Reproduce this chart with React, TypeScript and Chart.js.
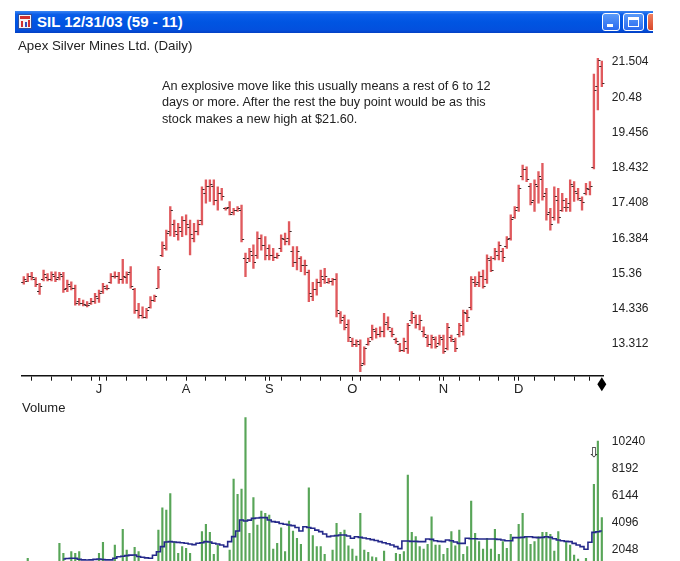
import React, { useEffect, useRef } from 'react';
import { Chart, registerables } from 'chart.js';

Chart.register(...registerables);

// ---- Data ----
const highs = [
  15.27, 15.36, 15.39, 15.24, 15.07, 15.46, 15.36, 15.41, 15.41, 15.39,
  15.39, 15.17, 15.12, 15.02, 14.64, 14.59, 14.54, 14.64, 14.78, 14.88,
  15.07, 15.02, 15.36, 15.41, 15.39, 15.77, 15.41, 15.56, 14.93, 14.49,
  14.39, 14.35, 14.69, 14.73, 15.56, 16.28, 16.62, 17.30, 16.91, 16.82,
  17.01, 17.06, 16.91, 16.82, 16.91, 17.88, 18.08, 18.08, 18.08, 17.88,
  17.83, 17.28, 17.45, 17.25, 17.30, 17.35, 15.95, 16.09, 16.19, 16.57,
  16.48, 16.43, 16.19, 16.09, 15.95, 16.48, 16.53, 16.87, 16.14, 16.14,
  15.85, 15.75, 15.46, 15.10, 15.20, 15.46, 15.51, 15.22, 15.22, 15.36,
  14.25, 14.15, 14.01, 13.48, 13.43, 13.43, 13.23, 13.48, 13.86, 13.77,
  13.81, 14.20, 14.10, 13.77, 13.48, 13.33, 13.48, 13.91, 14.25, 14.15,
  14.15, 13.81, 13.57, 13.57, 13.52, 13.57, 13.57, 13.91, 13.57, 13.48,
  13.91, 14.30, 14.30, 15.27, 15.27, 15.41, 15.46, 15.90, 15.85, 16.09,
  16.28, 16.09, 16.43, 17.06, 17.30, 17.93, 18.51, 18.46, 17.98, 18.08,
  18.32, 18.56, 17.83, 17.25, 17.88, 17.83, 17.69, 17.54, 18.08, 18.03,
  17.83, 17.59, 17.98, 18.03, 21.15, 21.61, 21.53,
];
const lows = [
  15.05, 15.12, 15.17, 14.98, 14.75, 15.14, 15.14, 15.14, 15.12, 15.17,
  14.81, 14.83, 14.88, 14.44, 14.44, 14.42, 14.39, 14.46, 14.49, 14.52,
  14.78, 14.88, 15.07, 15.22, 15.07, 15.07, 15.07, 14.93, 14.20, 14.06,
  14.06, 14.06, 14.35, 14.54, 14.93, 15.85, 16.04, 16.45, 16.43, 16.33,
  16.43, 16.48, 15.90, 16.28, 16.48, 16.77, 17.40, 17.45, 17.35, 17.20,
  17.49, 17.20, 17.06, 17.06, 17.16, 16.28, 15.27, 15.70, 15.51, 15.80,
  16.04, 15.75, 15.75, 15.73, 15.80, 15.99, 16.19, 16.19, 15.56, 15.46,
  15.41, 15.32, 14.54, 14.57, 14.73, 14.98, 15.07, 15.07, 15.02, 14.10,
  13.91, 13.72, 13.38, 13.23, 13.23, 12.51, 12.70, 13.28, 13.43, 13.48,
  13.52, 13.52, 13.72, 13.52, 13.33, 13.09, 13.09, 13.04, 13.91, 13.77,
  13.72, 13.52, 13.23, 13.19, 13.19, 13.28, 13.04, 13.14, 13.38, 13.09,
  13.52, 13.57, 13.96, 14.30, 14.98, 14.98, 14.93, 15.07, 15.41, 15.75,
  15.75, 15.70, 16.09, 16.33, 16.96, 17.16, 18.08, 18.03, 17.35, 17.16,
  17.40, 17.49, 16.91, 16.62, 16.91, 16.82, 17.16, 17.16, 17.16, 17.45,
  17.49, 17.20, 17.64, 17.64, 18.40, 20.11, 20.79,
];
const opens = [
  15.10, 15.15, 15.30, 15.20, 14.85, 15.20, 15.25, 15.20, 15.30, 15.25,
  15.30, 14.95, 15.00, 14.95, 14.55, 14.50, 14.45, 14.50, 14.55, 14.65,
  14.85, 14.95, 15.10, 15.30, 15.30, 15.20, 15.25, 15.40, 14.90, 14.30,
  14.15, 14.10, 14.40, 14.60, 14.95, 15.90, 16.10, 16.60, 16.80, 16.50,
  16.60, 16.90, 16.70, 16.40, 16.60, 16.90, 17.70, 17.90, 17.90, 17.50,
  17.70, 17.25, 17.30, 17.15, 17.20, 17.20, 15.80, 15.80, 15.90, 15.90,
  16.40, 16.20, 16.10, 15.90, 15.85, 16.10, 16.35, 16.40, 16.00, 15.70,
  15.80, 15.60, 15.40, 14.70, 14.90, 15.10, 15.20, 15.10, 15.15, 15.20,
  14.20, 14.10, 13.90, 13.40, 13.30, 13.30, 12.75, 13.30, 13.50, 13.70,
  13.60, 13.70, 13.95, 13.70, 13.45, 13.30, 13.15, 13.20, 14.00, 14.10,
  13.90, 13.70, 13.50, 13.30, 13.45, 13.35, 13.45, 13.20, 13.50, 13.40,
  13.60, 13.70, 14.20, 14.40, 15.10, 15.10, 15.30, 15.20, 15.75, 15.80,
  15.90, 16.00, 16.15, 16.40, 17.00, 17.30, 18.20, 18.40, 17.90, 17.50,
  17.90, 18.10, 17.70, 17.15, 17.00, 17.50, 17.20, 17.30, 17.40, 17.90,
  17.70, 17.50, 17.70, 17.80, 18.45, 20.80, 21.40,
];
const closes = [
  15.20, 15.30, 15.25, 15.05, 15.00, 15.35, 15.20, 15.35, 15.20, 15.35,
  14.90, 15.05, 14.95, 14.50, 14.50, 14.48, 14.45, 14.55, 14.70, 14.80,
  15.00, 14.95, 15.30, 15.30, 15.20, 15.30, 15.35, 15.00, 14.30, 14.15,
  14.10, 14.30, 14.60, 14.70, 15.50, 16.20, 16.55, 17.20, 16.60, 16.70,
  16.90, 16.80, 16.50, 16.60, 16.80, 17.80, 17.90, 17.95, 17.50, 17.70,
  17.60, 17.25, 17.10, 17.20, 17.25, 16.35, 15.70, 16.00, 15.70, 16.40,
  16.20, 15.90, 15.90, 15.85, 15.90, 16.40, 16.30, 16.60, 15.70, 16.00,
  15.60, 15.60, 14.80, 14.90, 15.10, 15.30, 15.30, 15.15, 15.20, 14.30,
  14.00, 13.80, 13.50, 13.30, 13.40, 12.70, 13.20, 13.40, 13.75, 13.60,
  13.70, 13.90, 13.80, 13.60, 13.40, 13.15, 13.40, 13.85, 14.20, 13.90,
  14.00, 13.60, 13.30, 13.50, 13.25, 13.50, 13.10, 13.80, 13.45, 13.20,
  13.85, 14.25, 14.10, 15.20, 15.05, 15.30, 15.00, 15.80, 15.45, 16.00,
  16.20, 15.85, 16.35, 16.95, 17.20, 17.85, 18.40, 18.10, 17.45, 17.95,
  18.20, 17.60, 17.10, 16.80, 17.60, 17.00, 17.50, 17.30, 17.95, 17.75,
  17.55, 17.45, 17.85, 17.90, 20.70, 21.55, 20.90,
];
const volumes = [
  1000, 1420, 950, 1050, 900, 1100, 1000, 950, 1100, 2550,
  1800, 1100, 1920, 1800, 1920, 1000, 1100, 900, 1050, 1800,
  2630, 1100, 1000, 2420, 1150, 3610, 2050, 1100, 2250, 1920,
  1150, 1000, 1100, 1200, 3560, 5240, 5070, 6300, 2680, 1800,
  2300, 2170, 1800, 1100, 1150, 3430, 3990, 3380, 1720, 2420,
  1100, 1150, 2050, 7410, 6250, 6655, 12040, 3310, 6000, 3935,
  4990, 4820, 4690, 2120, 2550, 3730, 1920, 4240, 3480, 2930,
  2480, 1150, 6750, 3130, 2300, 2300, 1720, 1100, 2050, 4060,
  3380, 3560, 2370, 2110, 1590, 4810, 2050, 1870, 1540, 1470,
  1100, 1970, 1000, 1100, 1800, 1720, 1920, 7710, 3380, 3060,
  2300, 2110, 2470, 4560, 2420, 2420, 1720, 2170, 3430, 2370,
  3560, 1720, 2300, 5750, 3310, 2680, 2110, 2930, 2110, 3610,
  1720, 2680, 2170, 3230, 1100, 3990, 4810, 3060, 2470, 2680,
  3060, 3380, 3380, 3230, 1970, 3430, 1100, 2680, 2420, 1670,
  1370, 1000, 1420, 1200, 7010, 10280, 4490,
];
const volumeAvg: (number | null)[] = [
  null, null, null, null, null, null, null, null, null, null,
  1370, 1400, 1420, 1420, 1350, 1300, 1290, 1300, 1340, 1370,
  1330, 1300, 1300, 1420, 1540, 1580, 1620, 1660, 1670, 1560,
  1500, 1450, 1420, 1650, 1920, 2300, 2650, 2680, 2650, 2626,
  2600, 2551, 2500, 2450, 2551, 2600, 2676, 2650, 2551, 2500,
  2424, 2300, 2676, 3054, 3482, 4313, 4237, 4300, 4439, 4460,
  4489, 4489, 4313, 4187, 4150, 4050, 3986, 3940, 3885, 3750,
  3482, 3800, 3750, 3684, 3550, 3431, 3250, 3054, 3100, 3129,
  3180, 3180, 3100, 2930, 3050, 3000, 2950, 2900, 2830, 2760,
  2680, 2600, 2520, 2420, 2300, 2150, 2730, 2730, 2700, 2700,
  2680, 2680, 2880, 2850, 2750, 2700, 2680, 2800, 2750, 2650,
  2550, 2550, 2930, 2900, 2900, 2880, 2880, 2880, 2880, 2880,
  2850, 2800, 2750, 2750, 2980, 2980, 3000, 3050, 3050, 3000,
  2980, 3000, 3050, 3000, 2900, 2800, 2750, 2700, 2680, 2550,
  2420, 2300, 2100, 2630, 3380, 3420, 3480,
];

const monthLabels = ['J', 'A', 'S', 'O', 'N', 'D'];
const monthIdx = [19, 41, 62, 83, 106, 125];
const weekIdx = [2, 7, 12, 17, 21, 26, 31, 36, 41, 46, 51, 56, 61, 65, 70, 75, 80, 85, 90, 95, 100, 105, 110, 115, 120, 124, 129, 134, 139, 143];
const priceTicks = [13.312, 14.336, 15.36, 16.384, 17.408, 18.432, 19.456, 20.48, 21.504];
const priceTickLabels = ['13.312', '14.336', '15.36', '16.384', '17.408', '18.432', '19.456', '20.48', '21.504'];
const volTicks = [2048, 4096, 6144, 8192, 10240];
const volTickLabels = ['2048', '4096', '6144', '8192', '10240'];

const N = highs.length;
const xTickIdx = Array.from(new Set([...weekIdx, ...monthIdx])).sort((a, b) => a - b);

const FONT = "'Liberation Sans', Arial, sans-serif";
const PLOT_LEFT = 21.8;
const AXIS_W = 76.2;

const ohlcTicksPlugin = {
  id: 'ohlcTicks',
  afterDatasetsDraw(chart: any) {
    const { ctx, scales } = chart;
    const x = scales.x;
    const y = scales.y;
    ctx.save();
    ctx.strokeStyle = '#3b2a2a';
    ctx.lineWidth = 1;
    ctx.beginPath();
    for (let i = 0; i < N; i++) {
      const px = x.getPixelForValue(i);
      const yo = Math.round(y.getPixelForValue(opens[i])) + 0.5;
      const yc = Math.round(y.getPixelForValue(closes[i])) + 0.5;
      ctx.moveTo(px - 2.6, yo);
      ctx.lineTo(px - 0.5, yo);
      ctx.moveTo(px + 0.5, yc);
      ctx.lineTo(px + 2.6, yc);
    }
    ctx.stroke();
    // end-of-data diamond below the axis
    const dx = x.getPixelForValue(N - 1);
    const dy = chart.chartArea.bottom + 8.5;
    ctx.fillStyle = '#000';
    ctx.beginPath();
    ctx.moveTo(dx, dy - 7);
    ctx.lineTo(dx + 4.5, dy);
    ctx.lineTo(dx, dy + 7);
    ctx.lineTo(dx - 4.5, dy);
    ctx.closePath();
    ctx.fill();
    ctx.restore();
  },
};

const fitRightAxis = (s: any) => {
  s.width = AXIS_W;
  s.paddingTop = 0;
  s.paddingBottom = 0;
};

function PriceChart() {
  const ref = useRef<HTMLCanvasElement | null>(null);
  useEffect(() => {
    if (!ref.current) return;
    const chart = new Chart(ref.current, {
      type: 'bar',
      data: {
        datasets: [
          {
            type: 'bar',
            data: highs.map((h, i) => ({ x: i, y: [lows[i], h] })) as any,
            backgroundColor: '#e05a5e',
            borderWidth: 0,
            barThickness: 1.7,
            grouped: false,
          } as any,
        ],
      },
      options: {
        animation: false,
        responsive: false,
        maintainAspectRatio: false,
        events: [],
        layout: { padding: { left: PLOT_LEFT, top: 53, right: 0, bottom: 0 } },
        plugins: { legend: { display: false }, tooltip: { enabled: false } },
        scales: {
          x: {
            type: 'linear',
            min: -0.5,
            max: N - 0.5,
            offset: false,
            afterBuildTicks: (s: any) => {
              s.ticks = xTickIdx.map((v) => ({ value: v }));
            },
            afterFit: (s: any) => {
              s.height = 24.3;
              s.paddingLeft = 0;
              s.paddingRight = 0;
            },
            grid: { display: true, offset: false, drawOnChartArea: false, drawTicks: true, tickLength: 5, color: '#111', lineWidth: 1 },
            border: { display: true, color: '#111', width: 1.5 },
            ticks: {
              autoSkip: false,
              maxRotation: 0,
              padding: 1,
              color: '#222',
              font: { family: FONT, size: 13 },
              callback: (v: any) => {
                const k = monthIdx.indexOf(Number(v));
                return k >= 0 ? monthLabels[k] : '';
              },
            },
          },
          y: {
            position: 'right',
            min: 12.39,
            max: 21.765,
            afterBuildTicks: (s: any) => {
              s.ticks = priceTicks.map((v) => ({ value: v }));
            },
            afterFit: fitRightAxis,
            grid: { display: false, drawTicks: false },
            border: { display: false },
            ticks: {
              padding: 8,
              color: '#222',
              font: { family: FONT, size: 12 },
              callback: (_v: any, idx: number) => priceTickLabels[idx],
            },
          },
        },
      } as any,
      plugins: [ohlcTicksPlugin],
    });
    return () => chart.destroy();
  }, []);
  return <canvas ref={ref} width={680} height={400} style={{ position: 'absolute', left: 0, top: 0, width: 680, height: 400 }} />;
}

function VolumeChart() {
  const ref = useRef<HTMLCanvasElement | null>(null);
  useEffect(() => {
    if (!ref.current) return;
    const chart = new Chart(ref.current, {
      type: 'bar',
      data: {
        datasets: [
          {
            type: 'line',
            data: volumeAvg.map((v, i) => ({ x: i, y: v })) as any,
            borderColor: '#24288a',
            borderWidth: 1.6,
            pointRadius: 0,
            stepped: 'middle',
            spanGaps: false,
            order: 0,
          } as any,
          {
            type: 'bar',
            data: volumes.map((v, i) => ({ x: i, y: v })) as any,
            backgroundColor: '#58a558',
            borderWidth: 0,
            barThickness: 1.5,
            grouped: false,
            order: 1,
          } as any,
        ],
      },
      options: {
        animation: false,
        responsive: false,
        maintainAspectRatio: false,
        events: [],
        layout: { padding: { left: PLOT_LEFT, top: 10, right: 0, bottom: 2.9 } },
        plugins: { legend: { display: false }, tooltip: { enabled: false } },
        scales: {
          x: { type: 'linear', min: -0.5, max: N - 0.5, offset: false, display: false, grid: { offset: false } },
          y: {
            position: 'right',
            min: 0,
            max: 12243,
            afterBuildTicks: (s: any) => {
              s.ticks = volTicks.map((v) => ({ value: v }));
            },
            afterFit: fitRightAxis,
            grid: { display: false, drawTicks: false },
            border: { display: false },
            ticks: {
              padding: 8,
              color: '#222',
              font: { family: FONT, size: 12 },
              callback: (_v: any, idx: number) => volTickLabels[idx],
            },
          },
        },
      } as any,
    });
    return () => chart.destroy();
  }, []);
  return <canvas ref={ref} width={680} height={175} style={{ position: 'absolute', left: 0, top: 405, width: 680, height: 175 }} />;
}

function TitleBar() {
  return (
    <div
      style={{
        position: 'absolute',
        left: 15,
        top: 11,
        width: 638,
        height: 22,
        overflow: 'hidden',
        background: 'linear-gradient(#3b86f2 0%, #0b5ee9 15%, #0055e2 50%, #0350de 85%, #0340c4 100%)',
      }}
    >
      <div style={{ position: 'absolute', left: 3, top: 3, width: 14, height: 15, background: '#f4f4f4', border: '1px solid #3050a0', boxSizing: 'border-box' }}>
        <div style={{ position: 'absolute', left: 1, top: 1, width: 10, height: 3, background: '#d03030' }} />
        <div style={{ position: 'absolute', left: 2, top: 6, width: 2, height: 6, background: '#d03030' }} />
        <div style={{ position: 'absolute', left: 6, top: 7, width: 2, height: 5, background: '#3050c0' }} />
        <div style={{ position: 'absolute', left: 9, top: 5, width: 2, height: 7, background: '#d03030' }} />
      </div>
      <div style={{ position: 'absolute', left: 22, top: 0, height: 22, lineHeight: '22px', color: '#fff', fontFamily: FONT, fontWeight: 'bold', fontSize: 15, whiteSpace: 'nowrap' }}>
        SIL 12/31/03 (59 - 11)
      </div>
      <div style={{ position: 'absolute', left: 587, top: 2, width: 18, height: 18, borderRadius: 3, border: '1px solid #fff', boxSizing: 'border-box', background: 'linear-gradient(#5a9af8, #2a6af0)' }}>
        <div style={{ position: 'absolute', left: 4, top: 10, width: 6, height: 3, background: '#fff' }} />
      </div>
      <div style={{ position: 'absolute', left: 608, top: 2, width: 21, height: 18, borderRadius: 3, border: '1px solid #fff', boxSizing: 'border-box', background: 'linear-gradient(#5a9af8, #2a6af0)' }}>
        <div style={{ position: 'absolute', left: 4, top: 3, width: 11, height: 10, borderTop: '3px solid #fff', borderLeft: '1px solid #fff', borderRight: '1px solid #fff', borderBottom: '1px solid #fff', boxSizing: 'border-box' }} />
      </div>
      <div style={{ position: 'absolute', left: 632, top: 2, width: 21, height: 18, borderRadius: 3, border: '1px solid #fff', boxSizing: 'border-box', background: 'linear-gradient(#f08060, #d8482a)' }} />
    </div>
  );
}

export default function App() {
  return (
    <div style={{ position: 'fixed', left: 0, top: 0, width: 680, height: 561, overflow: 'hidden', background: '#fff', fontFamily: FONT }}>
      <TitleBar />
      <PriceChart />
      <VolumeChart />
      <div style={{ position: 'absolute', left: 18, top: 38, fontSize: 13.3, lineHeight: '16px', color: '#222', whiteSpace: 'nowrap' }}>
        Apex Silver Mines Ltd. (Daily)
      </div>
      <div style={{ position: 'absolute', left: 162, top: 77.5, fontSize: 12.7, lineHeight: '16.5px', color: '#222', whiteSpace: 'nowrap' }}>
        <div>An explosive move like this usually means a rest of 6 to 12</div>
        <div>days or more. After the rest the buy point would be as this</div>
        <div>stock makes a new high at $21.60.</div>
      </div>
      <div style={{ position: 'absolute', left: 22, top: 400, fontSize: 13, lineHeight: '16px', color: '#222' }}>Volume</div>
      <div style={{ position: 'absolute', left: 588, top: 445, fontSize: 14, lineHeight: '15px', color: '#222', fontFamily: "'DejaVu Sans', sans-serif" }}>⇩</div>
    </div>
  );
}
